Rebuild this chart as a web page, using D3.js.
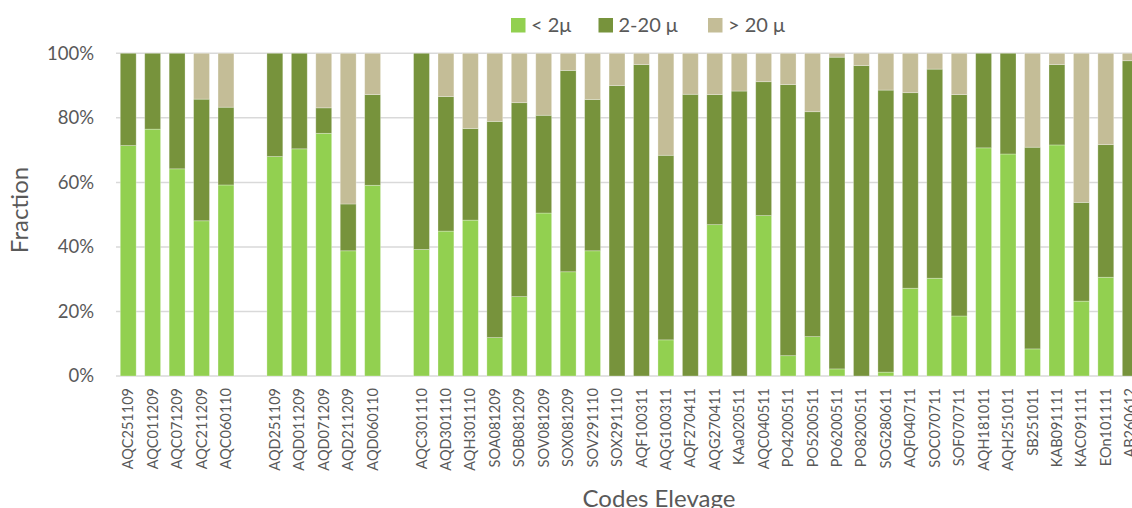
<!DOCTYPE html>
<html>
<head>
<meta charset="utf-8">
<script src="https://cdn.jsdelivr.net/npm/d3@7/dist/d3.min.js"></script>
<style>
  html, body { margin: 0; padding: 0; background: #fff; overflow: hidden; }
  svg { display: block; font-family: Lato, "Open Sans", sans-serif; }
</style>
</head>
<body>
<svg id="chart" width="1132" height="508"></svg>
<script>
// Sample codes; empty strings are spacer slots between farm groups
const categories = [
  "AQC251109", "AQC011209", "AQC071209", "AQC211209", "AQC060110", "",
  "AQD251109", "AQD011209", "AQD071209", "AQD211209", "AQD060110", "",
  "AQC301110", "AQD301110", "AQH301110", "SOA081209", "SOB081209", "SOV081209",
  "SOX081209", "SOV291110", "SOX291110", "AQF100311", "AQG100311", "AQF270411",
  "AQG270411", "KAa020511", "AQC040511", "PO4200511", "PO5200511", "PO6200511",
  "PO8200511", "SOG280611", "AQF040711", "SOC070711", "SOF070711", "AQH181011",
  "AQH251011", "SB251011", "KAB091111", "KAC091111", "EOn101111", "AB260612"
];

// Particle size fractions, percent of sample
const fine = [
  71.4, 76.5, 64.2, 48.1, 59.2, null,
  68.0, 70.4, 75.2, 38.8, 59.1, null,
  39.2, 44.9, 48.3, 11.9, 24.6, 50.5,
  32.3, 38.8, 0, 0, 11.2, 0,
  46.9, 0, 49.7, 6.3, 12.2, 2.2,
  0, 1.2, 27.2, 30.3, 18.6, 70.7,
  68.8, 8.4, 71.6, 23.2, 30.6, 0
];
const medium = [
  28.6, 23.5, 35.8, 37.7, 24.1, null,
  32.0, 29.6, 7.9, 14.5, 28.1, null,
  60.8, 41.7, 28.4, 67.0, 60.1, 30.3,
  62.4, 46.9, 90.0, 96.5, 57.2, 87.3,
  40.3, 88.3, 41.5, 84.0, 69.7, 96.6,
  96.2, 87.4, 60.6, 64.8, 68.6, 29.3,
  31.2, 62.5, 24.9, 30.6, 41.1, 97.7
];
const coarse = [
  0, 0, 0, 14.2, 16.7, null,
  0, 0, 16.9, 46.7, 12.8, null,
  0, 13.4, 23.3, 21.1, 15.3, 19.2,
  5.3, 14.3, 10.0, 3.5, 31.6, 12.7,
  12.8, 11.7, 8.8, 9.7, 18.1, 1.2,
  3.8, 11.4, 12.2, 4.9, 12.8, 0,
  0, 29.1, 3.5, 46.2, 28.3, 2.3
];

const seriesNames = ["< 2\u03bc", "2-20 \u03bc", "> 20 \u03bc"];
const seriesColors = ["#92D050", "#77933C", "#C4BD97"];
const yTicks = [0, 20, 40, 60, 80, 100];

const svg = d3.select("#chart");
const textColor = "#595959";
const gridColor = "#D9D9D9";

const plotLeft = 116, plotTop = 53.3, plotBottom = 376;
const step = 24.44;

const x = d3.scaleBand()
  .domain(d3.range(categories.length))
  .range([plotLeft, plotLeft + step * categories.length])
  .paddingInner(0.35)
  .paddingOuter(0.175);

const y = d3.scaleLinear().domain([0, 100]).range([plotBottom, plotTop]);

// Gridlines
svg.append("g")
  .selectAll("line")
  .data(yTicks)
  .join("line")
  .attr("x1", plotLeft)
  .attr("x2", 1132)
  .attr("y1", d => y(d))
  .attr("y2", d => y(d))
  .attr("stroke", gridColor)
  .attr("stroke-width", 1.5);

// Y axis labels
const yAxis = d3.axisLeft(y)
  .tickValues(yTicks)
  .tickFormat(d => d + "%")
  .tickSize(0)
  .tickPadding(0);
const yg = svg.append("g")
  .attr("transform", `translate(94,0)`)
  .call(yAxis);
yg.select(".domain").remove();
yg.selectAll("text")
  .attr("fill", textColor)
  .attr("font-size", 18.5)
  .attr("font-family", "Lato, sans-serif");

// Stacked data
const rows = categories.map((c, i) => ({ i, c, fine: fine[i], medium: medium[i], coarse: coarse[i] }))
  .filter(r => r.fine !== null);
const stack = d3.stack().keys(["fine", "medium", "coarse"]);
const layers = stack(rows);

svg.append("g")
  .selectAll("g")
  .data(layers)
  .join("g")
  .attr("fill", (d, k) => seriesColors[k])
  .selectAll("rect")
  .data(d => d)
  .join("rect")
  .attr("x", d => x(d.data.i))
  .attr("width", x.bandwidth())
  .attr("y", d => y(d[1]))
  .attr("height", d => Math.max(0, y(d[0]) - y(d[1])))
  .attr("stroke", "#ffffff")
  .attr("stroke-opacity", 0.35)
  .attr("stroke-width", 0.8);

// X axis category labels
const xAxis = d3.axisBottom(x)
  .tickFormat(i => categories[i])
  .tickSize(0)
  .tickPadding(0);
const xg = svg.append("g")
  .attr("transform", `translate(0,${plotBottom})`)
  .call(xAxis);
xg.select(".domain").remove();
xg.selectAll("text")
  .attr("transform", "rotate(-90)")
  .attr("x", -12)
  .attr("y", 0)
  .attr("dy", "0.35em")
  .attr("text-anchor", "end")
  .attr("fill", textColor)
  .attr("font-size", 14.5)
  .attr("font-family", "Lato, sans-serif");

// Axis titles
svg.append("text")
  .attr("transform", "translate(28,210) rotate(-90)")
  .attr("text-anchor", "middle")
  .attr("fill", textColor)
  .attr("font-size", 24)
  .text("Fraction");

svg.append("text")
  .attr("x", 659)
  .attr("y", 507)
  .attr("text-anchor", "middle")
  .attr("fill", textColor)
  .attr("font-size", 24)
  .text("Codes Elevage");

// Legend
const legendX = [511, 598.5, 708];
const legend = svg.append("g")
  .selectAll("g")
  .data(seriesNames)
  .join("g")
  .attr("transform", (d, k) => `translate(${legendX[k]},18)`);
legend.append("rect")
  .attr("width", 14.5)
  .attr("height", 14.5)
  .attr("fill", (d, k) => seriesColors[k]);
legend.append("text")
  .attr("x", 20)
  .attr("y", 14)
  .attr("fill", textColor)
  .attr("font-size", 20)
  .text(d => d);
</script>
</body>
</html>
